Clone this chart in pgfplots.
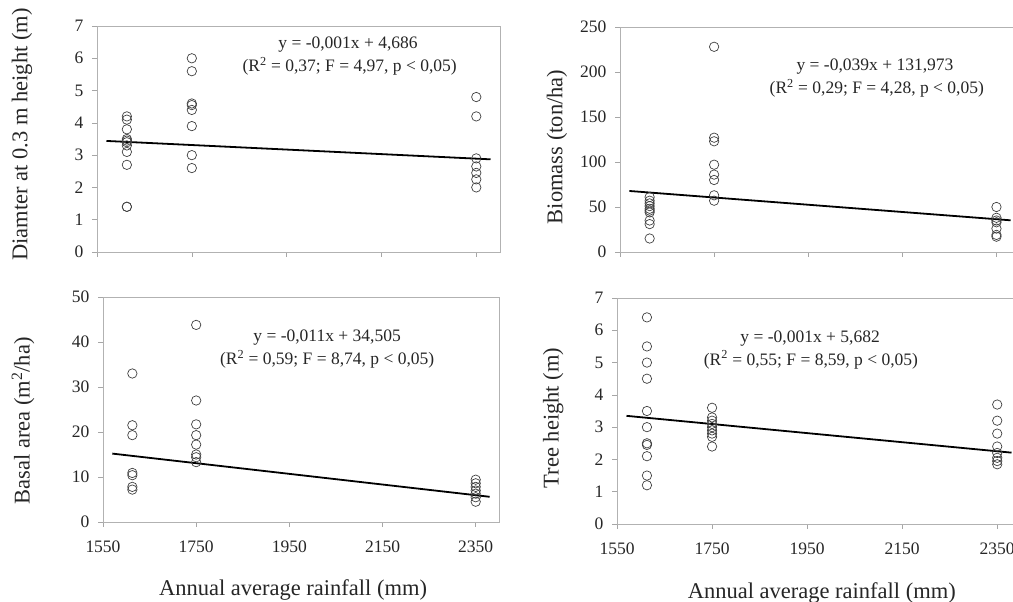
\documentclass[border=0pt]{standalone}
\usepackage{fontspec}
\setmainfont{Liberation Serif}
\usepackage{pgfplots}
\pgfplotsset{compat=1.18}

\newcommand{\tickfont}{\fontsize{17.5}{20}\selectfont}
\newcommand{\labfont}{\fontsize{22.5}{26}\selectfont}

\pgfplotsset{
  panel/.style={
    scale only axis,
    anchor=south west,
    xmin=1550, xmax=2400,
    xtick={1550,1750,1950,2150,2350},
    xtick pos=bottom, ytick pos=left,
    tick align=outside,
    major tick length=5pt,
    tick style={draw=gray!70, line width=0.6pt},
    axis line style={draw=gray!60, line width=0.8pt},
    ticklabel style={font=\tickfont, text=black!85},
    xticklabel style={yshift=-10pt},
    yticklabel style={xshift=-5pt},
    /pgf/number format/assume math mode=true,
    /pgf/number format/set thousands separator={},
    label style={font=\labfont, text=black!85},
    clip=false,
  },
  pts/.style={only marks, mark=o, mark size=4.7pt,
    mark options={draw=black!75, line width=0.7pt}},
  fit/.style={no marks, black, line width=1.8pt},
}
\tikzset{eq/.style={font=\tickfont, text=black!85, anchor=center}}

\begin{document}
\begin{tikzpicture}
\useasboundingbox (0pt,0pt) rectangle (1013pt,602pt);

% Diameter
\begin{axis}[panel, at={(97pt,350pt)}, width=403pt, height=226pt,
  ymin=0, ymax=7, ytick={0,1,...,7}, xticklabels={},
  ylabel={Diamter at 0.3 m height (m)},
  ylabel style={at={(axis description cs:-0.186,0.52)}, anchor=center}]
\addplot[pts] coordinates {
 (1613,4.2) (1613,4.1) (1613,3.8) (1613,3.5) (1613,3.45) (1613,3.4)
 (1613,3.3) (1613,3.1) (1613,2.7) (1613,1.4) (1613,1.4)
 (1750,6.0) (1750,5.6) (1750,4.6) (1750,4.55) (1750,4.4) (1750,3.9)
 (1750,3.0) (1750,2.6)
 (2350,4.8) (2350,4.2) (2350,2.9) (2350,2.65) (2350,2.45) (2350,2.25) (2350,2.0)};
\addplot[fit] coordinates {(1570,3.44) (2380,2.87)};
\node[eq] at (axis description cs:0.623,0.916) {y = -0,001x + 4,686};
\node[eq] at (axis description cs:0.627,0.823) {(R\textsuperscript{2} = 0,37; F = 4,97, p < 0,05)};
\end{axis}

% Biomass
\begin{axis}[panel, at={(620pt,350pt)}, width=400pt, height=225pt,
  ymin=0, ymax=250, ytick={0,50,...,250}, xticklabels={},
  ylabel={Biomass (ton/ha)},
  ylabel style={at={(axis description cs:-0.1575,0.467)}, anchor=center}]
\addplot[pts] coordinates {
 (1613,61) (1613,57) (1613,54) (1613,51) (1613,48) (1613,46) (1613,44)
 (1613,35) (1613,31) (1613,15)
 (1750,228) (1750,127) (1750,123) (1750,97) (1750,86) (1750,80) (1750,63) (1750,57)
 (2350,50) (2350,38) (2350,35) (2350,33) (2350,26) (2350,19) (2350,17)};
\addplot[fit] coordinates {(1570,67.8) (2380,35.2)};
\node[eq] at (axis description cs:0.6375,0.822) {y = -0,039x + 131,973};
\node[eq] at (axis description cs:0.642,0.729) {(R\textsuperscript{2} = 0,29; F = 4,28, p < 0,05)};
\end{axis}

% Basal area
\begin{axis}[panel, at={(103pt,80pt)}, width=396pt, height=225pt,
  ymin=0, ymax=50, ytick={0,10,...,50},
  xlabel={Annual average rainfall (mm)},
  xlabel style={at={(axis description cs:0.48,-0.302)}, anchor=center},
  ylabel={Basal area (m\textsuperscript{2}/ha)},
  ylabel style={at={(axis description cs:-0.202,0.449)}, anchor=center}]
\addplot[pts] coordinates {
 (1613,33) (1613,21.5) (1613,19.3) (1613,10.9) (1613,10.4) (1613,7.8) (1613,7.2)
 (1750,43.8) (1750,27) (1750,21.7) (1750,19.3) (1750,17.2) (1750,15) (1750,14.4) (1750,13.3)
 (2350,9.4) (2350,8.6) (2350,7.8) (2350,7.0) (2350,6.3) (2350,5.5) (2350,4.5)};
\addplot[fit] coordinates {(1570,15.2) (2380,5.6)};
\node[eq] at (axis description cs:0.566,0.818) {y = -0,011x + 34,505};
\node[eq] at (axis description cs:0.566,0.724) {(R\textsuperscript{2} = 0,59; F = 8,74, p < 0,05)};
\end{axis}

% Tree height
\begin{axis}[panel, at={(617pt,78pt)}, width=404pt, height=226pt,
  ymin=0, ymax=7, ytick={0,1,...,7},
  xlabel={Annual average rainfall (mm)},
  xlabel style={at={(axis description cs:0.507,-0.305)}, anchor=center},
  ylabel={Tree height (m)},
  ylabel style={at={(axis description cs:-0.158,0.469)}, anchor=center}]
\addplot[pts] coordinates {
 (1613,6.4) (1613,5.5) (1613,5.0) (1613,4.5) (1613,3.5) (1613,3.0) (1613,2.5)
 (1613,2.45) (1613,2.1) (1613,1.5) (1613,1.2)
 (1750,3.6) (1750,3.3) (1750,3.2) (1750,3.1) (1750,3.0) (1750,2.9) (1750,2.8)
 (1750,2.7) (1750,2.4)
 (2350,3.7) (2350,3.2) (2350,2.8) (2350,2.4) (2350,2.2) (2350,2.05) (2350,1.95) (2350,1.85)};
\addplot[fit] coordinates {(1570,3.35) (2380,2.21)};
\node[eq] at (axis description cs:0.478,0.819) {y = -0,001x + 5,682};
\node[eq] at (axis description cs:0.48,0.726) {(R\textsuperscript{2} = 0,55; F = 8,59, p < 0,05)};
\end{axis}
\end{tikzpicture}
\end{document}
